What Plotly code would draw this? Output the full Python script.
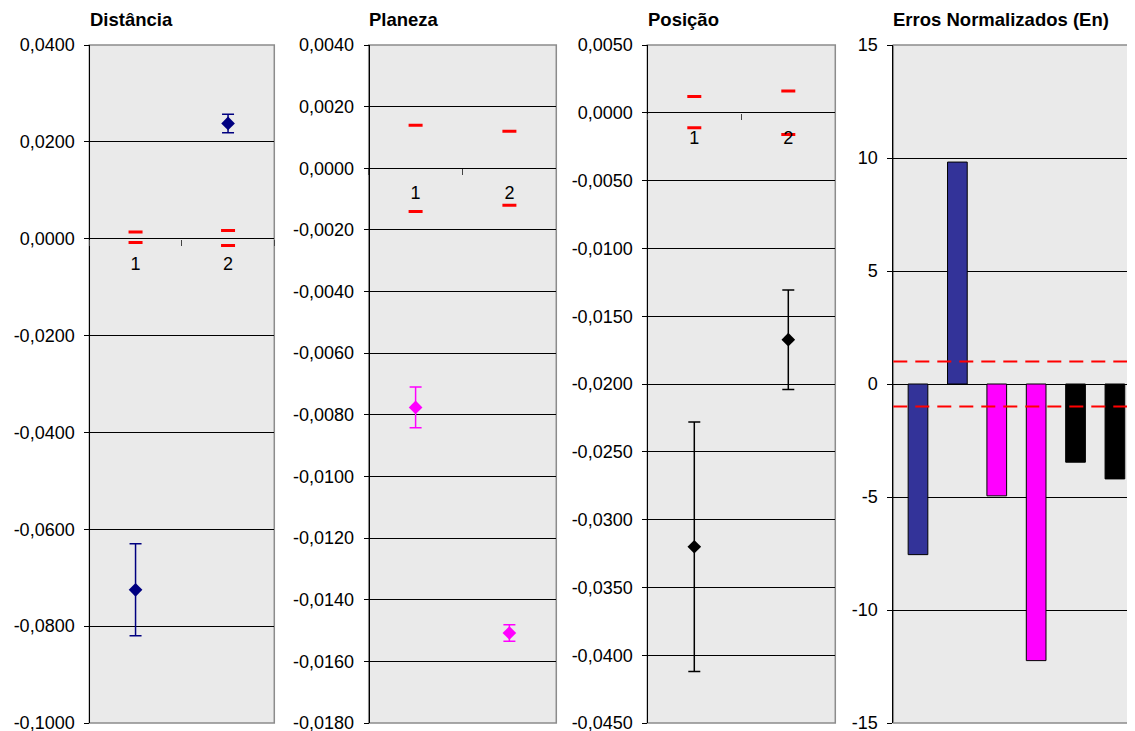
import plotly.graph_objects as go

# ---------------- data ----------------
categories = ["1", "2"]

dist_values = [-0.0725, 0.0238]
dist_errors = [0.0095, 0.0019]
dist_lim_upper = [0.0014, 0.0017]
dist_lim_lower = [-0.0008, -0.0014]

plan_values = [-0.00776, -0.01508]
plan_errors = [0.00066, 0.00027]
plan_lim_upper = [0.0014, 0.0012]
plan_lim_lower = [-0.0014, -0.0012]

pos_values = [-0.0320, -0.01673]
pos_errors = [0.0092, 0.00367]
pos_lim_upper = [0.0012, 0.0016]
pos_lim_lower = [-0.0011, -0.0016]

en_index = [1, 2, 3, 4, 5, 6]
en_values = [-7.55, 9.82, -4.95, -12.24, -3.46, -4.2]
en_limits = [1, -1]

titles = ["Distância", "Planeza", "Posição", "Erros Normalizados (En)"]

# ---------------- style ----------------
OFF = 8  # page body margin
W, H = 1135 - OFF, 731 - OFF
TOP, BOTTOM = 45 - OFF, 723 - OFF
FONT = "Liberation Sans, Arial, sans-serif"
BG = "#EAEAEA"
BORDER = "#8C8C8C"
TICKFONT = dict(family=FONT, size=18, color="black")


def ticks(lo, hi, step, decimals):
    n = int(round((hi - lo) / step))
    vals = [lo + k * step for k in range(n + 1)]
    txt = [f"{v:.{decimals}f}".replace(".", ",") for v in vals]
    txt = [t.lstrip("-") if t.strip("-0,") == "" else t for t in txt]
    return vals, txt


panels = [
    dict(x0=89.3, x1=274.3, yr=(-0.1, 0.04), dt=0.02, color="#000080",
         vals=dist_values, err=dist_errors, up=dist_lim_upper, lo=dist_lim_lower),
    dict(x0=368.7, x1=556.3, yr=(-0.018, 0.004), dt=0.002, color="#FF00FF",
         vals=plan_values, err=plan_errors, up=plan_lim_upper, lo=plan_lim_lower),
    dict(x0=647.3, x1=835.3, yr=(-0.045, 0.005), dt=0.005, color="#000000",
         vals=pos_values, err=pos_errors, up=pos_lim_upper, lo=pos_lim_lower),
]

fig = go.Figure()
layout = dict(
    width=W, height=H,
    margin=dict(l=0, r=0, t=TOP, b=H - BOTTOM, autoexpand=False),
    paper_bgcolor="white",
    plot_bgcolor=BG,
    showlegend=False,
    font=dict(family=FONT, size=18, color="black"),
)
shapes = []
annotations = []

for i, p in enumerate(panels, start=1):
    xa = "x" if i == 1 else f"x{i}"
    ya = "y" if i == 1 else f"y{i}"
    xkey = "xaxis" if i == 1 else f"xaxis{i}"
    ykey = "yaxis" if i == 1 else f"yaxis{i}"
    ymin, ymax = p["yr"]
    zero_pos = (0 - ymin) / (ymax - ymin)
    x0, x1 = p["x0"] - OFF, p["x1"] - OFF

    for lim in (p["up"], p["lo"]):
        fig.add_trace(go.Scatter(
            x=categories, y=lim, mode="markers", xaxis=xa, yaxis=ya,
            marker=dict(symbol="line-ew", size=10, line=dict(color="#FF0000", width=3)),
            hoverinfo="skip"))
    fig.add_trace(go.Scatter(
        x=categories, y=p["vals"], mode="markers", xaxis=xa, yaxis=ya,
        marker=dict(symbol="diamond", size=10.5, color=p["color"]),
        error_y=dict(type="data", array=p["err"], visible=True,
                     color=p["color"], thickness=1.5, width=6)))

    tv, tt = ticks(ymin, ymax, p["dt"], 4)
    layout[xkey] = dict(
        domain=[x0 / W, x1 / W], anchor="free", position=zero_pos,
        type="category", categoryorder="array",
        categoryarray=categories, range=[-0.5, 1.5],
        tickson="boundaries", ticks="outside", ticklen=6, tickcolor="#444",
        showline=False, showgrid=False,
        zeroline=False, tickfont=TICKFONT, ticklabelstandoff=12, fixedrange=True)
    layout[ykey] = dict(
        domain=[0, 1], anchor="free", position=x0 / W,
        range=[ymin, ymax], tickvals=tv, ticktext=tt,
        showgrid=True, gridcolor="black", gridwidth=1, zeroline=False,
        showline=True, linecolor="black", linewidth=1,
        ticks="outside", ticklen=5, tickcolor="black",
        ticklabeloverflow="allow",
        tickfont=TICKFONT, ticklabelstandoff=6, fixedrange=True)
    shapes.append(dict(type="rect", xref=f"{xa} domain", yref=f"{ya} domain",
                       x0=0, x1=1, y0=0, y1=1, layer="below",
                       line=dict(color=BORDER, width=1.5)))
    annotations.append(dict(text=f"<b>{titles[i-1]}</b>", xref="paper", yref="paper",
                            x=(x0 - 1.5) / W, xanchor="left",
                            y=1 + 25 / (BOTTOM - TOP), yanchor="middle", showarrow=False,
                            font=dict(family=FONT, size=18.5, color="black")))

# ---------------- En panel ----------------
en_colors = ["#333399", "#333399", "#FF00FF", "#FF00FF", "#000000", "#000000"]
fig.add_trace(go.Bar(
    x=en_index, y=en_values, xaxis="x4", yaxis="y4", width=0.5,
    marker=dict(color=en_colors, line=dict(color="black", width=1))))
x4_0 = 893.3 - OFF
tv4, tt4 = ticks(-15, 15, 5, 0)
layout["xaxis4"] = dict(
    domain=[x4_0 / W, 1], anchor="y4", range=[0.373, 6.51],
    showticklabels=False, ticks="", showgrid=False, zeroline=False,
    showline=False, fixedrange=True)
layout["yaxis4"] = dict(
    domain=[0, 1], anchor="x4", range=[-15, 15], tickvals=tv4, ticktext=tt4,
    showgrid=True, gridcolor="black", gridwidth=1,
    zeroline=True, zerolinecolor="black", zerolinewidth=1,
    showline=True, linecolor="black", linewidth=1,
    ticks="outside", ticklen=5, tickcolor="black",
    ticklabeloverflow="allow",
    tickfont=TICKFONT, ticklabelstandoff=6, fixedrange=True)
shapes.append(dict(type="rect", xref="x4 domain", yref="y4 domain",
                   x0=0, x1=1, y0=0, y1=1, layer="below",
                   line=dict(color=BORDER, width=1.5)))
for lim in en_limits:
    shapes.append(dict(type="line", xref="x4 domain", yref="y4", x0=0, x1=1,
                       y0=lim, y1=lim, layer="above",
                       line=dict(color="#FF0000", width=2, dash="14px,8px")))
annotations.append(dict(text=f"<b>{titles[3]}</b>", xref="paper", yref="paper",
                        x=(x4_0 - 2) / W, xanchor="left",
                        y=1 + 25 / (BOTTOM - TOP), yanchor="middle", showarrow=False,
                        font=dict(family=FONT, size=18.5, color="black")))

layout["shapes"] = shapes
layout["annotations"] = annotations
fig.update_layout(**layout)
fig.write_html("out.html")
